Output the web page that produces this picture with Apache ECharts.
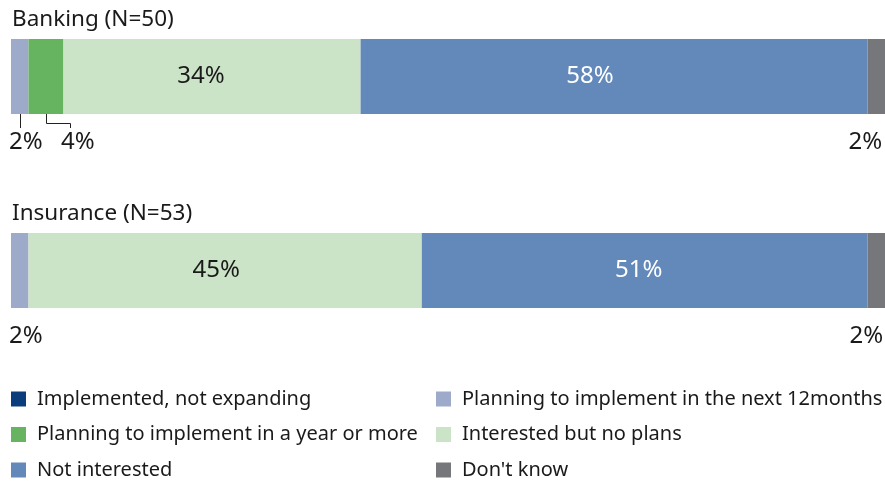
<!DOCTYPE html>
<html><head><meta charset="utf-8">
<script src="https://cdn.jsdelivr.net/npm/echarts@6/dist/echarts.min.js"></script>
<style>html,body{margin:0;padding:0;background:#fff}#c{width:885px;height:483px}</style>
</head><body><div id="c"></div>
<script>
// ---- data ----
const groups = ['Banking (N=50)', 'Insurance (N=53)'];
const seriesNames = [
  'Implemented, not expanding',
  'Planning to implement in the next 12months',
  'Planning to implement in a year or more',
  'Interested but no plans',
  'Not interested',
  "Don't know"
];
const banking = [0, 2, 4, 34, 58, 2];
const insurance = [0, 2, 0, 45, 51, 2];
const legendLeft = ['Implemented, not expanding', 'Planning to implement in a year or more', 'Not interested'];
const legendRight = ['Planning to implement in the next 12months', 'Interested but no plans', "Don't know"];

// ---- styles ----
const values = [banking, insurance];
const colors = ['#0b3c7c', '#9eaac9', '#66b45f', '#cbe3c6', '#6389bb', '#76777b'];
const FONT = '"Noto Sans", sans-serif';
const TXT = '#1a1a1a';
const gridTops = [39, 233];
const barH = 75;
// label placement styles per group / series index
const labelStyle = [
  {1: {mode: 'below', dx: 6, line: 'straight'}, 2: {mode: 'below', dx: 32, line: 'elbow'},
   3: {mode: 'inside', dx: -11, color: TXT}, 4: {mode: 'inside', dx: -24, color: '#fff'},
   5: {mode: 'below', dx: -11}},
  {1: {mode: 'below', dx: 6}, 3: {mode: 'inside', dx: -9, color: TXT},
   4: {mode: 'inside', dx: -6, color: '#fff'}, 5: {mode: 'below', dx: -10}}
];

const grids = gridTops.map(t => ({left: 11, right: 0, top: t, height: barH}));
const xAxes = gridTops.map((t, i) => ({type: 'value', gridIndex: i, min: 0, max: 100, show: false}));
const yAxes = gridTops.map((t, i) => ({type: 'category', gridIndex: i, data: [groups[i]], show: false}));

const series = [];
values.forEach((vals, gi) => {
  seriesNames.forEach((name, si) => {
    const st = labelStyle[gi][si];
    let label = {show: false};
    if (st && vals[si] > 0) {
      if (st.mode === 'inside') {
        label = {show: true, position: 'inside', offset: [st.dx, 0], color: st.color,
          fontSize: 24, fontFamily: FONT, formatter: '{c}%'};
      } else {
        label = {show: true, position: ['50%', '138%'], align: 'center', verticalAlign: 'middle',
          offset: [st.dx, 0], color: TXT, fontSize: 24, fontFamily: FONT, formatter: '{c}%'};
      }
    }
    series.push({
      type: 'bar', name: name, stack: 'g' + gi, xAxisIndex: gi, yAxisIndex: gi,
      barWidth: barH, itemStyle: {color: colors[si]}, label: label,
      data: [vals[si]], animation: false, silent: true
    });
  });
});

const legendCommon = {
  orient: 'vertical', top: 389, height: 94, padding: 0, itemWidth: 15, itemHeight: 15, itemGap: 15.5, icon: 'rect',
  selectedMode: false,
  textStyle: {fontSize: 20, lineHeight: 20, color: TXT, fontFamily: FONT, padding: [0, 0, 0, 6]}
};

const chart = echarts.init(document.getElementById('c'), null, {renderer: 'canvas'});
chart.setOption({
  animation: false,
  color: colors,
  title: groups.map((g, i) => ({
    text: g, left: 12, top: gridTops[i] - 31, padding: 0,
    textStyle: {fontSize: 22.5, fontWeight: 'normal', color: TXT, fontFamily: FONT}
  })),
  grid: grids, xAxis: xAxes, yAxis: yAxes, series: series,
  legend: [
    Object.assign({}, legendCommon, {left: 11, data: legendLeft}),
    Object.assign({}, legendCommon, {left: 436, data: legendRight})
  ]
});

// leader lines derived from axes
const graphics = [];
values.forEach((vals, gi) => {
  let cum = 0;
  vals.forEach((v, si) => {
    const st = labelStyle[gi][si];
    if (st && st.line && v > 0) {
      const p = chart.convertToPixel({xAxisIndex: gi, yAxisIndex: gi}, [cum + v / 2, 0]);
      const x = Math.round(p[0]) + 0.5;
      const yb = p[1] + barH / 2;
      let pts;
      if (st.line === 'straight') {
        pts = [[x, yb], [x, yb + 14]];
      } else {
        const x2 = Math.round(p[0] + st.dx - 8) + 0.5;
        pts = [[x, yb], [x, yb + 9.5], [x2, yb + 9.5], [x2, yb + 14]];
      }
      graphics.push({type: 'polyline', shape: {points: pts}, style: {stroke: '#222', lineWidth: 1, fill: null}, silent: true});
    }
    cum += v;
  });
});
chart.setOption({graphic: graphics});
</script></body></html>
